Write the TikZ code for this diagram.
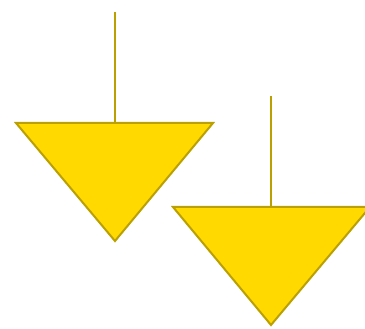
\documentclass[tikz,border=0pt]{standalone}
\usepackage{tikz}
\definecolor{MarkerGold}{RGB}{255,217,0}
\definecolor{MarkerEdge}{RGB}{186,160,0}

\begin{document}
\begin{tikzpicture}[x=1pt,y=-1pt,
    marker/.style={fill=MarkerGold, draw=MarkerEdge, line width=2pt, line join=miter},
    stem/.style={draw=MarkerEdge, line width=2.4pt}]
    \useasboundingbox (0,0) rectangle (365,329);
    \begin{scope}
        \clip (0,0) rectangle (365,329);
        % Left marker
        \coordinate (tipA) at (115,12);
        \coordinate (baseA) at (115,123);
        \draw[marker] (16,123) -- (213,123) -- (115,241) -- cycle;
        \draw[stem] (tipA) -- (baseA);
        % Right marker
        \coordinate (tipB) at (271,96);
        \coordinate (baseB) at (271,207);
        \draw[marker] (173,207) -- (370,207) -- (271,325) -- cycle;
        \draw[stem] (tipB) -- (baseB);
    \end{scope}
\end{tikzpicture}
\end{document}
